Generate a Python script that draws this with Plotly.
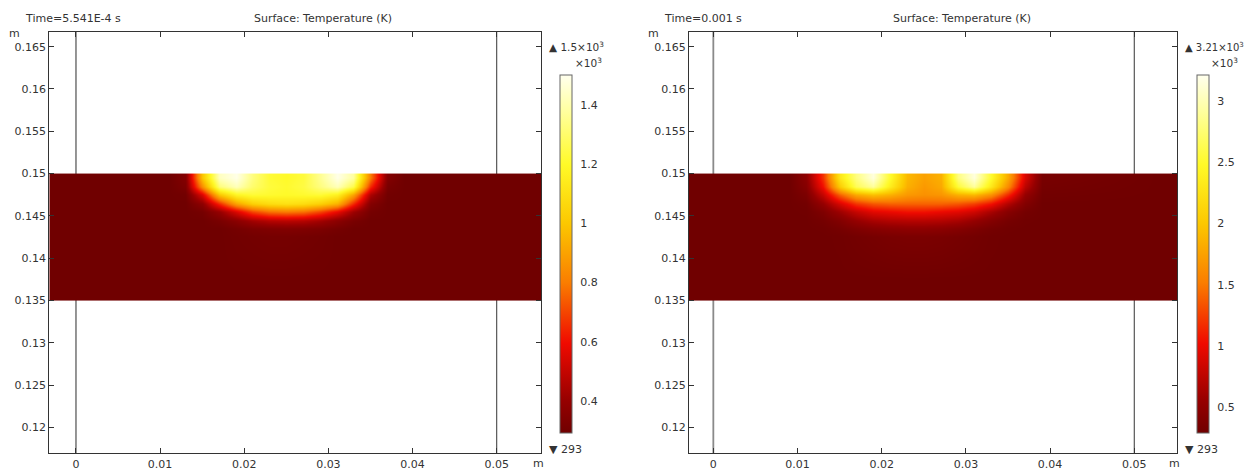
import plotly.graph_objects as go

# ---------------- data ----------------
# heatmap grid (cell centres, metres)
x_cols = [-0.005, 0.009, 0.011, 0.013, 0.015, 0.017, 0.019, 0.021, 0.023,
          0.025, 0.027, 0.029, 0.031, 0.033, 0.035, 0.037, 0.039, 0.053]
y_rows = [0.1375, 0.1425, 0.1435, 0.1445, 0.1455, 0.1465, 0.1475, 0.1485, 0.1495]
T_ambient = 293

# temperatures (K) for the heated zone, rows y=0.1425..0.1495, columns x=0.009..0.039
T_left_hot = [
    [293, 293, 293, 293, 293, 300, 305, 310, 310, 305, 300, 293, 293, 293, 293, 293],
    [293, 293, 293, 293, 293, 310, 330, 340, 345, 340, 330, 310, 293, 293, 293, 293],
    [293, 293, 293, 293, 320, 370, 430, 470, 480, 470, 430, 370, 320, 293, 293, 293],
    [293, 293, 293, 310, 400, 550, 700, 780, 800, 780, 700, 580, 420, 310, 293, 293],
    [293, 293, 293, 380, 650, 900, 1030, 1080, 1100, 1080, 1030, 940, 650, 350, 293, 293],
    [293, 293, 300, 550, 1000, 1180, 1220, 1210, 1200, 1210, 1220, 1160, 900, 450, 300, 293],
    [293, 293, 330, 850, 1320, 1420, 1300, 1230, 1210, 1240, 1330, 1420, 1250, 650, 320, 293],
    [293, 293, 350, 1000, 1430, 1490, 1330, 1220, 1200, 1230, 1360, 1490, 1380, 800, 350, 293],
]
T_right_hot = [
    [293, 293, 293, 300, 320, 340, 360, 370, 370, 360, 340, 320, 300, 293, 293, 293],
    [293, 293, 300, 340, 400, 450, 480, 500, 500, 480, 440, 390, 330, 300, 293, 293],
    [293, 293, 330, 420, 550, 650, 700, 720, 720, 700, 650, 550, 430, 340, 300, 293],
    [293, 300, 400, 600, 800, 950, 1000, 1050, 1050, 1000, 950, 850, 650, 450, 330, 293],
    [293, 320, 550, 900, 1200, 1350, 1400, 1400, 1400, 1400, 1350, 1250, 1050, 700, 420, 293],
    [293, 380, 800, 1400, 1800, 1950, 1850, 1700, 1650, 1680, 1850, 1900, 1650, 1150, 550, 310],
    [293, 450, 1050, 2050, 2650, 2900, 2350, 1850, 1700, 1800, 2550, 2900, 2300, 1600, 750, 330],
    [293, 500, 1200, 2300, 2800, 3150, 2500, 1900, 1750, 1850, 2800, 3150, 2500, 1800, 900, 350],
]

T_min_left, T_max_left = 293, 1500
T_min_right, T_max_right = 293, 3210
time_labels = ["Time=5.541E-4 s", "Time=0.001 s"]
max_labels = ["1.5×10<sup>3</sup>", "3.21×10<sup>3</sup>"]

x_ticks = [0, 0.01, 0.02, 0.03, 0.04, 0.05]
x_ticktext = ["0", "0.01", "0.02", "0.03", "0.04", "0.05"]
y_ticks = [0.12, 0.125, 0.13, 0.135, 0.14, 0.145, 0.15, 0.155, 0.16, 0.165]
y_ticktext = ["0.12", "0.125", "0.13", "0.135", "0.14", "0.145", "0.15", "0.155", "0.16", "0.165"]
cb_left_vals = [400, 600, 800, 1000, 1200, 1400]
cb_left_text = ["0.4", "0.6", "0.8", "1", "1.2", "1.4"]
cb_right_vals = [500, 1000, 1500, 2000, 2500, 3000]
cb_right_text = ["0.5", "1", "1.5", "2", "2.5", "3"]
boundary_x = [0.0, 0.05]


def full_grid(hot):
    rows = [[T_ambient] * len(x_cols)]
    for r in hot:
        rows.append([T_ambient] + list(r) + [T_ambient])
    return rows


z_left = full_grid(T_left_hot)
z_right = full_grid(T_right_hot)

# ---------------- styling ----------------
OFF = 8                      # page body margin of the html page
W, H = 1252 - OFF, 470 - OFF
FONT = "DejaVu Sans"
TXT = "#333333"


def px(x):
    return (x - OFF) / W


def py(y):
    return 1 - (y - OFF) / H


cscale = [
    [0.0, "rgb(112,0,0)"],
    [0.09, "rgb(150,0,0)"],
    [0.25, "rgb(240,10,0)"],
    [0.42, "rgb(250,125,0)"],
    [0.586, "rgb(252,200,0)"],
    [0.75, "rgb(255,250,40)"],
    [0.9, "rgb(255,255,160)"],
    [1.0, "rgb(255,255,238)"],
]

fig = go.Figure()
fig.add_trace(go.Heatmap(x=x_cols, y=y_rows, z=z_left, coloraxis="coloraxis",
                         zsmooth="best", xaxis="x", yaxis="y", hoverinfo="skip"))
fig.add_trace(go.Heatmap(x=x_cols, y=y_rows, z=z_right, coloraxis="coloraxis2",
                         zsmooth="best", xaxis="x2", yaxis="y2", hoverinfo="skip"))


def xax(domain, rng, anchor):
    return dict(domain=domain, range=rng, tickvals=x_ticks, ticktext=x_ticktext,
                ticks="inside", ticklen=5, tickcolor=TXT, showline=True,
                linecolor=TXT, linewidth=1, mirror="ticks", showgrid=False,
                zeroline=False, anchor=anchor,
                tickfont=dict(family=FONT, size=11, color=TXT))


def yax(domain, rng, anchor):
    return dict(domain=domain, range=rng, tickvals=y_ticks, ticktext=y_ticktext,
                ticks="inside", ticklen=5, tickcolor=TXT, showline=True,
                linecolor=TXT, linewidth=1, mirror="ticks", showgrid=False,
                zeroline=False, anchor=anchor,
                tickfont=dict(family=FONT, size=11, color=TXT))


ydom = [py(453.3), py(31.7)]
yrng = [0.11693, 0.16677]


def cbar(xpix, vals, text):
    return dict(x=px(xpix), xanchor="left", xpad=0, y=py(433), yanchor="bottom",
                ypad=0, len=(433 - 75) / H, lenmode="fraction", thickness=12,
                thicknessmode="pixels", outlinewidth=1, outlinecolor="#666666",
                tickvals=vals, ticktext=text, ticks="outside", ticklen=6,
                tickcolor="rgba(0,0,0,0)",
                tickfont=dict(family=FONT, size=11, color=TXT))


fig.update_layout(
    width=W, height=H, margin=dict(l=0, r=0, t=0, b=0, autoexpand=False),
    paper_bgcolor="white", plot_bgcolor="white", showlegend=False,
    xaxis=xax([px(49.3), px(541)], [-0.00317, 0.05527], "y"),
    yaxis=yax(ydom, yrng, "x"),
    xaxis2=xax([px(689), px(1177)], [-0.00289, 0.05507], "y2"),
    yaxis2=yax(ydom, yrng, "x2"),
    coloraxis=dict(cmin=T_min_left, cmax=T_max_left, colorscale=cscale,
                   colorbar=cbar(560, cb_left_vals, cb_left_text)),
    coloraxis2=dict(cmin=T_min_right, cmax=T_max_right, colorscale=cscale,
                    colorbar=cbar(1197, cb_right_vals, cb_right_text)),
)

# geometry boundary lines (behind the heated block)
shapes = []
for xr, yr in (("x", "y domain"), ("x2", "y2 domain")):
    for i, bx in enumerate(boundary_x):
        shapes.append(dict(type="line", xref=xr, yref=yr, x0=bx, x1=bx, y0=0, y1=1,
                           layer="below",
                           line=dict(color="#8a8a8a" if i == 0 else "#555555",
                                     width=1.8 if i == 0 else 1.2)))
fig.update_layout(shapes=shapes)

ann = []


def text(x, y, s, anchor="left", size=11, color=TXT):
    ann.append(dict(x=px(x), y=py(y), xref="paper", yref="paper", text=s,
                    showarrow=False, xanchor=anchor, yanchor="middle",
                    font=dict(family=FONT, size=size, color=color)))


offsets = [0, 639]
cb_x = [547, 1183]
top_size = [10.5, 10]
for k in range(2):
    o = offsets[k]
    text(23 + o, 18, time_labels[k])
    text(323 + o, 18, "Surface: Temperature (K)", anchor="center")
    text(14 + o, 34, "m", anchor="center")
    text(538 + o - (3 if k else 0), 463, "m", anchor="center")
    text(cb_x[k], 47, "▲ " + max_labels[k], size=top_size[k])
    text(cb_x[k] + 26, 62, "×10<sup>3</sup>", size=10.5)
    text(cb_x[k], 449, "▼ " + str(T_ambient))
fig.update_layout(annotations=ann)

fig.write_html("out.html")
